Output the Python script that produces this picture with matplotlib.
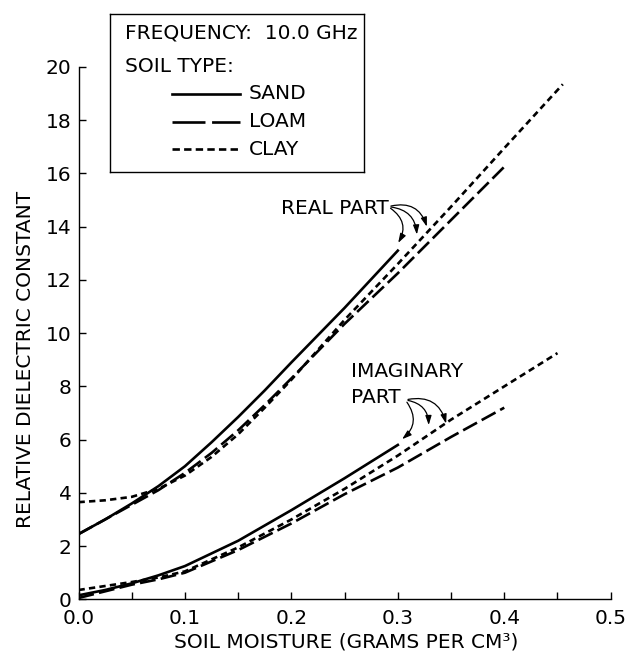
import matplotlib
matplotlib.use("Agg")
import matplotlib.pyplot as plt
from matplotlib.ticker import MultipleLocator

plt.rcParams["font.family"] = ["DejaVu Sans"]

# real part of the dielectric constant
sand_real_x = [0.0, 0.025, 0.05, 0.075, 0.1, 0.125, 0.15, 0.175, 0.2, 0.25, 0.3]
sand_real_y = [2.45, 3.0, 3.6, 4.25, 5.0, 5.9, 6.85, 7.85, 8.9, 10.95, 13.1]
loam_real_x = [0.0, 0.025, 0.05, 0.075, 0.1, 0.125, 0.15, 0.175, 0.2, 0.25, 0.3, 0.35, 0.4]
loam_real_y = [2.45, 3.0, 3.55, 4.1, 4.75, 5.5, 6.35, 7.3, 8.3, 10.35, 12.25, 14.25, 16.25]
clay_real_x = [0.0, 0.025, 0.05, 0.075, 0.1, 0.125, 0.15, 0.175, 0.2, 0.25, 0.3, 0.35, 0.4, 0.455]
clay_real_y = [3.65, 3.72, 3.85, 4.15, 4.65, 5.35, 6.2, 7.2, 8.25, 10.5, 12.6, 14.75, 16.95, 19.35]

# imaginary part
sand_imag_x = [0.0, 0.025, 0.05, 0.075, 0.1, 0.15, 0.2, 0.25, 0.3]
sand_imag_y = [0.15, 0.35, 0.6, 0.9, 1.25, 2.2, 3.35, 4.55, 5.8]
loam_imag_x = [0.0, 0.025, 0.05, 0.075, 0.1, 0.15, 0.2, 0.25, 0.3, 0.35, 0.4]
loam_imag_y = [0.05, 0.3, 0.55, 0.75, 1.0, 1.85, 2.85, 3.95, 4.95, 6.1, 7.2]
clay_imag_x = [0.0, 0.025, 0.05, 0.075, 0.1, 0.15, 0.2, 0.25, 0.3, 0.35, 0.4, 0.45]
clay_imag_y = [0.35, 0.5, 0.65, 0.82, 1.05, 1.95, 3.0, 4.15, 5.4, 6.75, 8.0, 9.25]

x_ticks = [0.0, 0.1, 0.2, 0.3, 0.4, 0.5]
x_tick_labels = ["0.0", "0.1", "0.2", "0.3", "0.4", "0.5"]
y_ticks = list(range(0, 21, 2))

LW = 1.9
SAND = "-"
LOAM = (0, (6, 2))
CLAY = (0, (2.4, 1.6))
FS = 14.5

fig = plt.figure(figsize=(6.27, 6.54), dpi=100)
ax = fig.add_axes([0.1252, 0.0836, 0.8488, 0.814])

ax.plot(sand_real_x, sand_real_y, color="black", lw=LW, ls=SAND)
ax.plot(loam_real_x, loam_real_y, color="black", lw=LW, ls=LOAM)
ax.plot(clay_real_x, clay_real_y, color="black", lw=LW, ls=CLAY)
ax.plot(sand_imag_x, sand_imag_y, color="black", lw=LW, ls=SAND)
ax.plot(loam_imag_x, loam_imag_y, color="black", lw=LW, ls=LOAM)
ax.plot(clay_imag_x, clay_imag_y, color="black", lw=LW, ls=CLAY)

ax.set_xlim(0, 0.5)
ax.set_ylim(0, 20)
ax.spines["top"].set_visible(False)
ax.spines["right"].set_visible(False)
for s in ("left", "bottom"):
    ax.spines[s].set_linewidth(1.0)

ax.set_xticks(x_ticks)
ax.set_xticklabels(x_tick_labels)
ax.xaxis.set_minor_locator(MultipleLocator(0.05))
ax.set_yticks(y_ticks)
ax.tick_params(axis="both", which="both", direction="in", length=5, width=1.0,
               labelsize=FS)
ax.tick_params(axis="x", pad=7)
ax.tick_params(axis="y", pad=5)

ax.set_xlabel("SOIL MOISTURE (GRAMS PER CM³)", fontsize=FS)
ax.xaxis.set_label_coords(0.503, -0.08)
ax.xaxis.label.set_verticalalignment("center")
ax.set_ylabel("RELATIVE DIELECTRIC CONSTANT", fontsize=FS)
ax.yaxis.set_label_coords(-0.1, 0.45)
ax.yaxis.label.set_verticalalignment("center")

# curve annotations
arrow_style = dict(arrowstyle="-|>,head_length=0.55,head_width=0.18",
                   color="black", lw=0.9)
ax.text(0.19, 14.67, "REAL PART", fontsize=FS, ha="left", va="center")
real_tips = [(0.299, 13.3, -0.5), (0.318, 13.6, -0.45), (0.328, 13.9, -0.5)]
for tx, ty, rad in real_tips:
    ax.annotate("", xy=(tx, ty), xytext=(0.291, 14.75),
                arrowprops=dict(arrow_style, connectionstyle=f"arc3,rad={rad}"))

ax.text(0.256, 8.56, "IMAGINARY", fontsize=FS, ha="left", va="center")
ax.text(0.256, 7.57, "PART", fontsize=FS, ha="left", va="center")
imag_tips = [(0.302, 5.95, -0.5), (0.329, 6.44, -0.45), (0.346, 6.5, -0.5)]
for tx, ty, rad in imag_tips:
    ax.annotate("", xy=(tx, ty), xytext=(0.307, 7.49),
                arrowprops=dict(arrow_style, connectionstyle=f"arc3,rad={rad}"))

# legend box
lg = fig.add_axes([0.1754, 0.737, 0.4051, 0.2416])
lg.set_xlim(0, 254)
lg.set_ylim(158, 0)
lg.set_xticks([])
lg.set_yticks([])
for s in lg.spines.values():
    s.set_linewidth(1.0)
lg.text(15, 19, "FREQUENCY:  10.0 GHz", fontsize=FS, va="center")
lg.text(15, 53, "SOIL TYPE:", fontsize=FS, va="center")
legend_rows = [("SAND", SAND, 80), ("LOAM", (0, (12.5, 2.5)), 108),
               ("CLAY", (0, (2.8, 1.6)), 135)]
for name, style, yy in legend_rows:
    lg.plot([62, 130], [yy, yy], color="black", lw=LW, ls=style)
    lg.text(139, yy, name, fontsize=FS, va="center")

fig.savefig("out.png", dpi=100)
